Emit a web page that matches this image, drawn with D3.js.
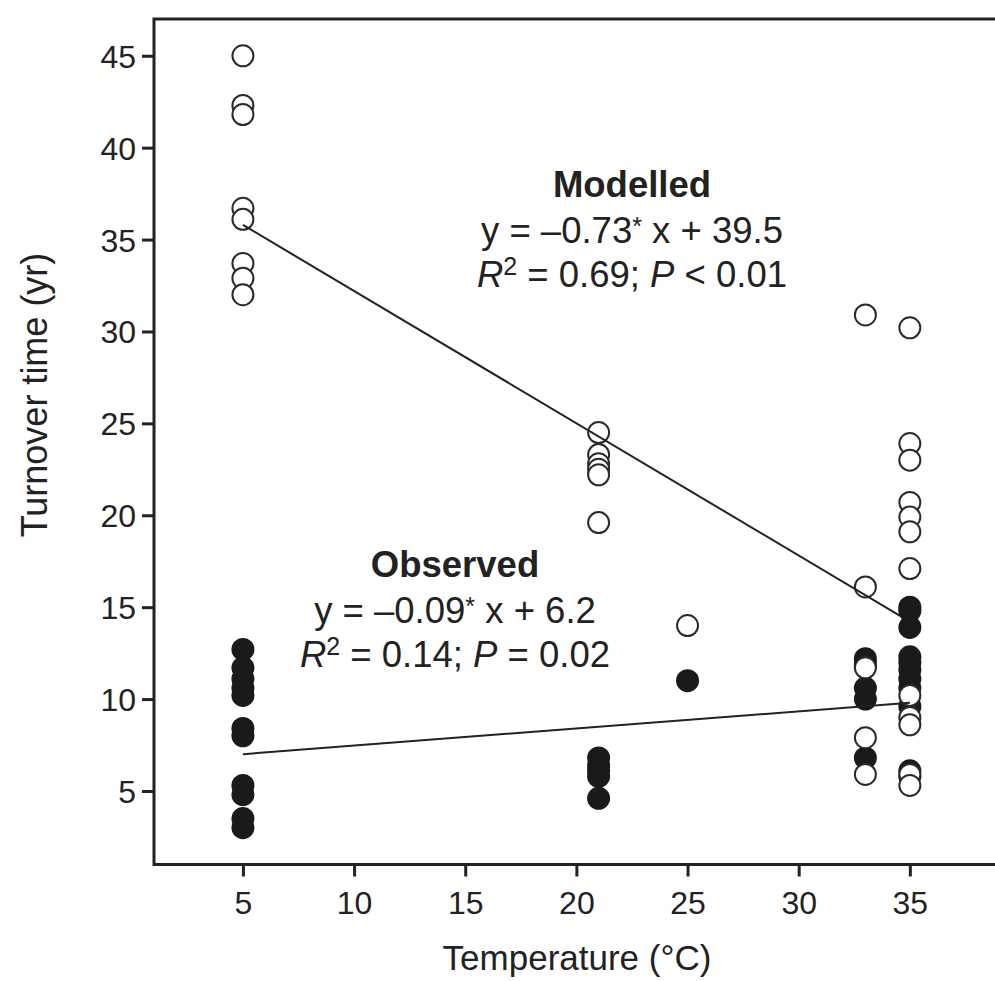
<!DOCTYPE html>
<html>
<head>
<meta charset="utf-8">
<script src="https://cdn.jsdelivr.net/npm/d3@7"></script>
<style>
  body { margin: 0; background: #fff; }
  text { font-family: "Liberation Sans", Arial, Helvetica, sans-serif; fill: #222; }
</style>
</head>
<body>
<div id="chart"></div>
<script>
// Turnover time vs temperature: observed (filled) and modelled (open)
const xTicks = [5, 10, 15, 20, 25, 30, 35];
const yTicks = [5, 10, 15, 20, 25, 30, 35, 40, 45];

// [temperature, turnover time]
const modelled = [
  [5, 45.0], [5, 42.3], [5, 41.8], [5, 36.7], [5, 36.1], [5, 33.7], [5, 32.9], [5, 32.0],
  [21, 24.5], [21, 23.3], [21, 22.8], [21, 22.5], [21, 22.2], [21, 19.6],
  [25, 14.0],
  [33, 30.9], [33, 16.1], [33, 11.7], [33, 7.9], [33, 5.9],
  [35, 30.2], [35, 23.9], [35, 23.0], [35, 20.7], [35, 19.9], [35, 19.1], [35, 17.1],
  [35, 10.2], [35, 9.0], [35, 8.6], [35, 5.9], [35, 5.3]
];
const observed = [
  [5, 12.7], [5, 11.7], [5, 11.1], [5, 10.6], [5, 10.2], [5, 8.4], [5, 8.0],
  [5, 5.3], [5, 4.8], [5, 3.5], [5, 3.0],
  [21, 6.8], [21, 6.4], [21, 6.1], [21, 5.8], [21, 4.6],
  [25, 11.0],
  [33, 12.2], [33, 11.9], [33, 10.6], [33, 10.0], [33, 6.8],
  [35, 15.0], [35, 14.8], [35, 13.9], [35, 12.3], [35, 12.0], [35, 11.6], [35, 11.1],
  [35, 10.6], [35, 9.6], [35, 6.1], [35, 5.8]
];
// fitted lines, as drawn (end points)
const modelledFit = [[5, 35.8], [34.6, 14.5]];
const observedFit = [[5, 7.0], [35, 9.8]];

(function() {
  const width = 995, height = 981;
  const left = 154, top = 19, bottom = 864.5, right = 1021;

  const svg = d3.select("#chart").append("svg")
    .attr("width", width)
    .attr("height", height);

  const x = d3.scaleLinear().domain([1, 40]).range([left, right]);
  const y = d3.scaleLinear().domain([1, 47]).range([bottom, top]);

  const ink = "#222";

  // axes
  const xAxis = svg.append("g")
    .attr("transform", `translate(0,${bottom})`)
    .call(d3.axisBottom(x).tickValues(xTicks).tickSize(12).tickPadding(10).tickSizeOuter(0));
  const yAxis = svg.append("g")
    .attr("transform", `translate(${left},0)`)
    .call(d3.axisLeft(y).tickValues(yTicks).tickSize(12).tickPadding(6).tickSizeOuter(0));

  [xAxis, yAxis].forEach(g => {
    g.select(".domain").remove();
    g.selectAll(".tick line").attr("stroke", ink).attr("stroke-width", 3);
    g.selectAll(".tick text")
      .attr("font-size", 32)
      .attr("font-family", "Liberation Sans, Arial, sans-serif")
      .attr("fill", ink);
  });
  xAxis.selectAll(".tick text").attr("dy", "0.85em");
  yAxis.selectAll(".tick text").attr("dy", "0.36em");

  // frame (right edge falls outside the picture)
  svg.append("path")
    .attr("d", `M${right},${top}H${left}V${bottom}H${right}`)
    .attr("fill", "none")
    .attr("stroke", ink)
    .attr("stroke-width", 3);

  // points
  const r = 11.5;
  svg.append("g").selectAll("circle")
    .data(observed)
    .join("circle")
    .attr("cx", d => x(d[0]))
    .attr("cy", d => y(d[1]))
    .attr("r", r)
    .attr("fill", "#1a1a1a");

  svg.append("g").selectAll("circle")
    .data(modelled)
    .join("circle")
    .attr("cx", d => x(d[0]))
    .attr("cy", d => y(d[1]))
    .attr("r", r - 1)
    .attr("fill", "#fff")
    .attr("stroke", "#2a2a2a")
    .attr("stroke-width", 2);

  // regression lines
  const line = d3.line().x(d => x(d[0])).y(d => y(d[1]));
  [modelledFit, observedFit].forEach(pts => {
    svg.append("path")
      .attr("d", line(pts))
      .attr("fill", "none")
      .attr("stroke", ink)
      .attr("stroke-width", 2);
  });

  // annotations
  function note(cx, cy, title, eq, r2, p) {
    const g = svg.append("g").attr("text-anchor", "middle").attr("font-size", 36.5);
    g.append("text").attr("x", cx).attr("y", cy).attr("font-weight", "bold").text(title);
    const t1 = g.append("text").attr("x", cx).attr("y", cy + 46);
    t1.append("tspan").text(eq[0]);
    t1.append("tspan").attr("dy", -8).attr("font-size", 25).text("*");
    t1.append("tspan").attr("dy", 8).text(eq[1]);
    const t2 = g.append("text").attr("x", cx).attr("y", cy + 90);
    t2.append("tspan").attr("font-style", "italic").text("R");
    t2.append("tspan").attr("dy", -12).attr("font-size", 25).text("2");
    t2.append("tspan").attr("dy", 12).text(` = ${r2}; `);
    t2.append("tspan").attr("font-style", "italic").text("P");
    t2.append("tspan").text(p);
  }
  note(632, 197, "Modelled", ["y = \u20130.73", " x + 39.5"], "0.69", " < 0.01");
  note(455, 577, "Observed", ["y = \u20130.09", " x + 6.2"], "0.14", " = 0.02");

  // axis titles
  svg.append("text")
    .attr("x", 577).attr("y", 970)
    .attr("text-anchor", "middle")
    .attr("font-size", 35)
    .text("Temperature (\u00b0C)");
  svg.append("text")
    .attr("transform", "translate(47,395) rotate(-90)")
    .attr("text-anchor", "middle")
    .attr("font-size", 36)
    .text("Turnover time (yr)");
})();
</script>
</body>
</html>
